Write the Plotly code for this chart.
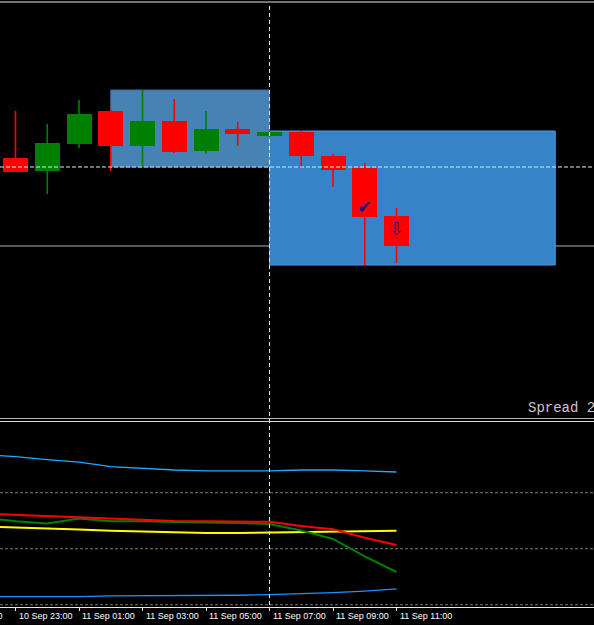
import pandas as pd
import plotly.graph_objects as go

# ---------------- data ----------------
candle_times = pd.date_range("2023-09-10 23:00", periods=13, freq="h")
opens  = [1.10260, 1.10247, 1.10274, 1.10307, 1.10272, 1.10297, 1.10267, 1.10289, 1.10282, 1.10286, 1.10262, 1.10250, 1.10202]
highs  = [1.10307, 1.10294, 1.10318, 1.10308, 1.10328, 1.10319, 1.10307, 1.10296, 1.10287, 1.10287, 1.10264, 1.10255, 1.10210]
lows   = [1.10246, 1.10224, 1.10270, 1.10247, 1.10251, 1.10265, 1.10264, 1.10272, 1.10281, 1.10250, 1.10231, 1.10152, 1.10155]
closes = [1.10246, 1.10275, 1.10304, 1.10272, 1.10297, 1.10266, 1.10289, 1.10284, 1.10286, 1.10262, 1.10248, 1.10201, 1.10172]

# zones
zone1 = dict(t0="2023-09-11 02:00", t1="2023-09-11 07:00", lo=1.10251, hi=1.10328)
zone2 = dict(t0="2023-09-11 07:00", t1="2023-09-11 16:00", lo=1.10153, hi=1.10287)
level_dashed = 1.10251
level_gray = 1.10172
crosshair_time = "2023-09-11 07:00"

# signal marks
check_time, check_price = "2023-09-11 10:00", 1.10212
arrow_time, arrow_price = "2023-09-11 11:00", 1.10190

# indicator (lower panel)
ind_times = pd.date_range("2023-09-10 22:00", periods=14, freq="h")
band_upper = [83.6, 82.9, 81.8, 80.9, 79.3, 78.6, 78.1, 77.8, 77.8, 77.8, 78.1, 78.1, 77.8, 77.4]
band_lower = [32.9, 32.9, 32.9, 32.9, 33.2, 33.2, 33.2, 33.2, 33.4, 33.6, 33.9, 34.3, 34.9, 35.7]
line_red = [62.5, 62.1, 61.7, 61.3, 60.7, 60.4, 59.9, 59.8, 59.8, 59.6, 58.1, 57.0, 53.9, 51.3]
line_green = [61.1, 59.8, 59.0, 60.8, 59.8, 59.8, 59.5, 59.4, 59.2, 58.8, 56.5, 53.5, 47.3, 41.7]
line_yellow = [57.9, 57.6, 57.2, 56.9, 56.4, 56.1, 55.7, 55.6, 55.6, 55.8, 56.0, 56.2, 56.4, 56.4]
levels = [30, 50, 70]

tick_times = pd.date_range("2023-09-10 21:00", "2023-09-11 11:00", freq="2h")
spread_text = "Spread 20"

# ---------------- figure ----------------
W, H = 594, 625
BOT = 18
PH = H - BOT  # plot height in px (top margin 0)


def py(p):
    return (PH - p) / PH


px_per_hour = 31.75
x_left = candle_times[0] - pd.Timedelta(hours=15.5 / px_per_hour)
x_right = x_left + pd.Timedelta(hours=W / px_per_hour)
body_w_ms = 25 / px_per_hour * 3600 * 1000

fig = go.Figure()

up_col, dn_col = "#008000", "#ff0000"
cols = [up_col if c >= o else dn_col for o, c in zip(opens, closes)]

# wicks
for col in (up_col, dn_col):
    xs, ys = [], []
    for t, h, l, c in zip(candle_times, highs, lows, cols):
        if c == col:
            xs += [t, t, None]
            ys += [l, h, None]
    fig.add_trace(go.Scatter(x=xs, y=ys, mode="lines", line=dict(color=col, width=1.6),
                             hoverinfo="skip", showlegend=False, xaxis="x", yaxis="y"))

# bodies
bases = [min(o, c) for o, c in zip(opens, closes)]
heights = [abs(c - o) for o, c in zip(opens, closes)]
fig.add_trace(go.Bar(x=candle_times, y=heights, base=bases, width=body_w_ms,
                     marker=dict(color=cols, line=dict(width=0)),
                     showlegend=False, xaxis="x", yaxis="y"))

# indicator lines
for vals, col, w in [(band_upper, "#22aaff", 1.3), (band_lower, "#1e90ff", 1.3),
                     (line_yellow, "#ffff00", 2), (line_green, "#008000", 2),
                     (line_red, "#ff0000", 2)]:
    fig.add_trace(go.Scatter(x=ind_times, y=vals, mode="lines", line=dict(color=col, width=w),
                             showlegend=False, xaxis="x", yaxis="y2"))

shapes = []
shapes.append(dict(type="rect", xref="x", yref="y", x0=zone1["t0"], x1=zone1["t1"],
                   y0=zone1["lo"], y1=zone1["hi"], fillcolor="rgb(70,130,180)",
                   line=dict(color="rgb(60,110,155)", width=1), layer="below"))
shapes.append(dict(type="rect", xref="x", yref="y", x0=zone2["t0"], x1=zone2["t1"],
                   y0=zone2["lo"], y1=zone2["hi"], fillcolor="rgb(54,132,199)",
                   line=dict(color="rgb(70,155,225)", width=1), layer="below"))
shapes.append(dict(type="line", xref="paper", yref="y", x0=0, x1=1, y0=level_gray, y1=level_gray,
                   line=dict(color="rgb(88,88,88)", width=2), layer="below"))
shapes.append(dict(type="line", xref="paper", yref="y", x0=0, x1=1, y0=level_dashed, y1=level_dashed,
                   line=dict(color="#d0f0ff", width=1, dash="4px,2px")))
for lv in levels:
    shapes.append(dict(type="line", xref="paper", yref="y2", x0=0, x1=1, y0=lv, y1=lv,
                       line=dict(color="#7a7a7a", width=1, dash="3px,2px"), layer="below"))
# frame lines
shapes.append(dict(type="line", xref="paper", yref="paper", x0=0, x1=1, y0=py(2), y1=py(2),
                   line=dict(color="#e8e8e8", width=1)))
shapes.append(dict(type="line", xref="paper", yref="paper", x0=0, x1=1, y0=py(418.5), y1=py(418.5),
                   line=dict(color="#b8b8b8", width=1)))
shapes.append(dict(type="line", xref="paper", yref="paper", x0=0, x1=1, y0=py(421.5), y1=py(421.5),
                   line=dict(color="#d8d8d8", width=1)))
# crosshair vertical
shapes.append(dict(type="line", xref="x", yref="paper", x0=crosshair_time, x1=crosshair_time,
                   y0=py(605), y1=py(3), line=dict(color="#d0f0ff", width=1, dash="4px,3px")))

label_font = dict(family="Liberation Sans", size=9, color="white")
annotations = [
    dict(x=check_time, y=check_price, xref="x", yref="y", text="✔", showarrow=False,
         font=dict(family="DejaVu Sans", size=18, color="#1a1a80")),
    dict(x=arrow_time, y=arrow_price, xref="x", yref="y", text="⇩", showarrow=False,
         font=dict(family="DejaVu Sans", size=18, color="#1a1a80")),
    dict(x=526 / W, y=py(408), xref="paper", yref="paper", text=spread_text, showarrow=False,
         xanchor="left", yanchor="middle",
         font=dict(family="Liberation Mono", size=14, color="#c8c8c8")),
    dict(x=5 / W, y=py(616), xref="paper", yref="paper", text="10 Sep 21:00", showarrow=False,
         xanchor="right", yanchor="middle", font=label_font),
]
for t in tick_times[1:]:
    annotations.append(dict(x=t, y=py(616), xref="x", yref="paper", text=t.strftime("%d %b %H:%M"),
                            showarrow=False, xanchor="left", yanchor="middle", xshift=1,
                            font=label_font))

fig.update_layout(
    width=W, height=H,
    margin=dict(l=0, r=0, t=0, b=BOT, pad=0),
    paper_bgcolor="black", plot_bgcolor="black",
    showlegend=False, bargap=0,
    shapes=shapes, annotations=annotations,
    xaxis=dict(type="date", range=[x_left, x_right], anchor="y2", domain=[0, 1],
               showgrid=False, zeroline=False, showline=True, linecolor="#e8e8e8", linewidth=1,
               ticks="outside", ticklen=3, tickcolor="#e8e8e8", tickwidth=1,
               tickvals=list(tick_times), showticklabels=False, fixedrange=True),
    yaxis=dict(domain=[py(418), py(2)], range=[1.10000, 1.10416], showgrid=False,
               zeroline=False, showticklabels=False, ticks="", anchor="x"),
    yaxis2=dict(domain=[0, py(421)], range=[29.2, 95.6], showgrid=False,
                zeroline=False, showticklabels=False, ticks="", anchor="x"),
)

fig.write_html("out.html")
